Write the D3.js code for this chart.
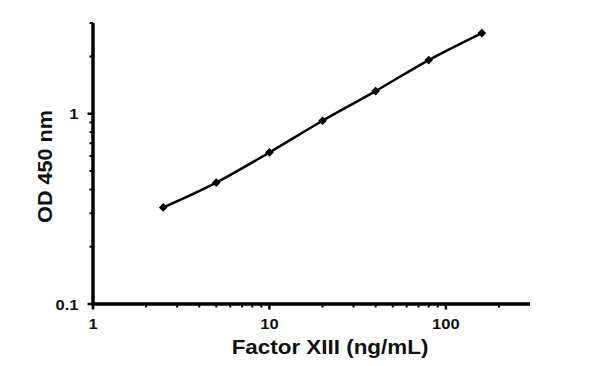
<!DOCTYPE html>
<html><head><meta charset="utf-8">
<script src="https://cdn.jsdelivr.net/npm/d3@7"></script>
<style>body{margin:0;background:#fff}svg{display:block}text{font-family:"Liberation Sans",Arial,sans-serif;font-weight:bold;fill:#111}</style>
</head><body>
<svg id="c" width="600" height="366"></svg>
<script>
const concentrations = [2.5, 5, 10, 20, 40, 80, 160];
const odValues = [0.322, 0.435, 0.626, 0.919, 1.316, 1.916, 2.657];
const xMajorTicks = [1, 10, 100];
const xMinorTicks = [2,3,4,5,6,7,8,9,20,30,40,50,60,70,80,90,200];
const yMajorTicks = [0.1, 1];
const yMinorTicks = [0.2,0.3,0.4,0.5,0.6,0.7,0.8,0.9,2,3];
const xTitle = "Factor XIII (ng/mL)";
const yTitle = "OD 450 nm";

const svg = d3.select("#c");
const x = d3.scaleLog().domain([1, 300]).range([93, 530]);
const y = d3.scaleLog().domain([0.1, 3]).range([304, 23]);

const g = svg.append("g");
g.append("line").attr("x1", x(1) - 1.75).attr("x2", x(300)).attr("y1", y(0.1)).attr("y2", y(0.1))
  .attr("stroke", "#000").attr("stroke-width", 3.5);
g.append("line").attr("x1", x(1)).attr("x2", x(1)).attr("y1", y(0.1) + 1.75).attr("y2", y(3))
  .attr("stroke", "#000").attr("stroke-width", 3.5);

g.selectAll(".xmaj").data(xMajorTicks).enter().append("line")
  .attr("x1", d => x(d)).attr("x2", d => x(d)).attr("y1", y(0.1)).attr("y2", y(0.1) + 5.5)
  .attr("stroke", "#000").attr("stroke-width", 2.5);
g.selectAll(".xmin").data(xMinorTicks).enter().append("line")
  .attr("x1", d => x(d)).attr("x2", d => x(d)).attr("y1", y(0.1)).attr("y2", y(0.1) + 3.5)
  .attr("stroke", "#000").attr("stroke-width", 2);
g.selectAll(".ymaj").data(yMajorTicks).enter().append("line")
  .attr("x1", x(1) - 5.5).attr("x2", x(1)).attr("y1", d => y(d)).attr("y2", d => y(d))
  .attr("stroke", "#000").attr("stroke-width", 2.5);
g.selectAll(".ymin").data(yMinorTicks).enter().append("line")
  .attr("x1", x(1) - 3.5).attr("x2", x(1)).attr("y1", d => y(d)).attr("y2", d => y(d))
  .attr("stroke", "#000").attr("stroke-width", 2);

g.selectAll(".xl").data(xMajorTicks).enter().append("text")
  .attr("transform", d => `translate(${x(d)},329) scale(1.1,1)`)
  .attr("text-anchor", "middle").attr("font-size", 15).text(d => String(d));
g.selectAll(".yl").data(yMajorTicks).enter().append("text")
  .attr("transform", d => `translate(78.5,${y(d) + 5.5}) scale(1.1,1)`)
  .attr("text-anchor", "end").attr("font-size", 15).text(d => String(d));

svg.append("text").attr("transform", "translate(330,353.5) scale(1.15,1)")
  .attr("text-anchor", "middle").attr("font-size", 19.5).text(xTitle);
svg.append("text").attr("transform", "translate(51.5,166.5) rotate(-90) scale(1.08,1)")
  .attr("text-anchor", "middle").attr("font-size", 20).text(yTitle);

const pts = concentrations.map((c, i) => [c, odValues[i]]);
svg.append("path").datum(pts)
  .attr("d", d3.line().x(d => x(d[0])).y(d => y(d[1])).curve(d3.curveCatmullRom.alpha(0.5)))
  .attr("fill", "none").attr("stroke", "#000").attr("stroke-width", 2.5);
svg.selectAll(".m").data(pts).enter().append("path")
  .attr("transform", d => `translate(${x(d[0])},${y(d[1])}) rotate(45)`)
  .attr("d", d3.symbol().type(d3.symbolSquare).size(38))
  .attr("fill", "#000");
</script>
</body></html>
